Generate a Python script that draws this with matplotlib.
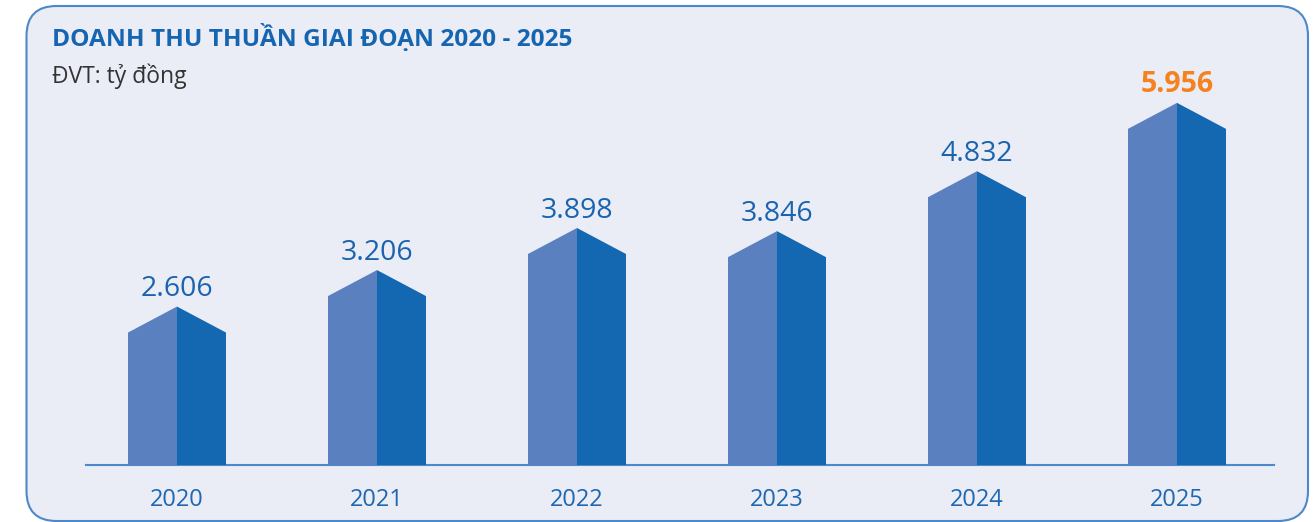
import numpy as np
import matplotlib
matplotlib.use('Agg')
import matplotlib.pyplot as plt
from matplotlib.patches import Polygon, FancyBboxPatch

years = ['2020', '2021', '2022', '2023', '2024', '2025']
revenue = [2606, 3206, 3898, 3846, 4832, 5956]
labels = ['2.606', '3.206', '3.898', '3.846', '4.832', '5.956']

W, H = 1313, 522
plt.rcParams['font.family'] = ['Open Sans', 'DejaVu Sans']

fig = plt.figure(figsize=(W / 100, H / 100), dpi=100)
fig.patch.set_facecolor('white')

# rounded panel behind everything
panel = FancyBboxPatch((0.265, 0.01), 12.815, 5.15,
                       boxstyle='round,pad=0,rounding_size=0.3',
                       transform=fig.dpi_scale_trans,
                       facecolor='#eaecf6', edgecolor='#4d89c9', lw=1.5, zorder=0)
fig.add_artist(panel)

ax = fig.add_axes([77 / W, 57 / H, 1200 / W, 465 / H])
ax.set_xlim(-0.5, 5.5)
ax.set_ylim(0, 465 / 0.0608)
ax.axis('off')
ax.patch.set_alpha(0)

half = 0.245
roof = 26 / 0.0608
light = '#5b80c0'
dark = '#1467b1'

ax.plot([-0.455, 5.485], [0, 0], color='#4d89c9', lw=1.5, zorder=1, clip_on=False)

for i, v in enumerate(revenue):
    left = [(i - half, -25), (i - half, v - roof), (i, v), (i, -25)]
    right = [(i, -25), (i, v), (i + half, v - roof), (i + half, -25)]
    ax.add_patch(Polygon(left, closed=True, facecolor=light, edgecolor='none', zorder=2))
    ax.add_patch(Polygon(right, closed=True, facecolor=dark, edgecolor='none', zorder=2))

    last = i == len(revenue) - 1
    ax.annotate(labels[i], xy=(i, v), xytext=(0, 7.5), textcoords='offset points',
                ha='center', va='baseline', fontsize=20.5,
                color='#f5821f' if last else '#1a63ae',
                fontweight='bold' if last else 'normal')
    ax.annotate(years[i], xy=(i, 0), xytext=(0, -29.5), textcoords='offset points',
                ha='center', va='baseline', fontsize=17, color='#1e67b1')

fig.text(52 / W, 1 - 46 / H, 'DOANH THU THUẦN GIAI ĐOẠN 2020 - 2025',
         fontsize=17.6, fontweight='bold', color='#1565b0', ha='left', va='baseline')
fig.text(52 / W, 1 - 83 / H, 'ĐVT: tỷ đồng', fontsize=16.5, color='#333333',
         ha='left', va='baseline')

fig.savefig('out.png', dpi=100)
